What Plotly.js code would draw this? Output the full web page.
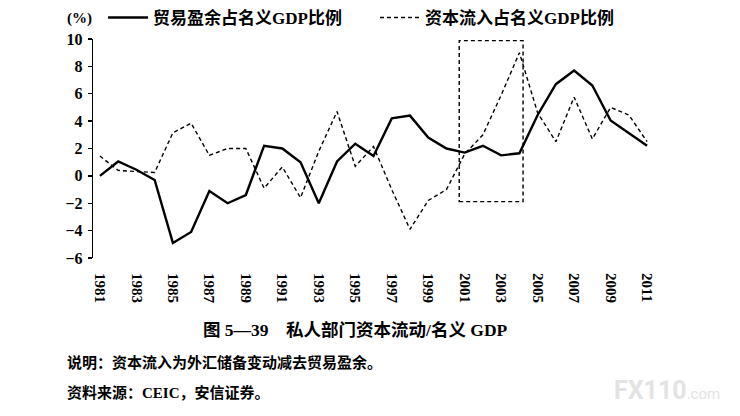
<!DOCTYPE html>
<html>
<head>
<meta charset="utf-8">
<script src="https://cdn.plot.ly/plotly-3.0.1.min.js"></script>
<style>
  html, body { margin: 0; padding: 0; background: #fff; }
  #chart { width: 740px; height: 416px; }
</style>
</head>
<body>
<div id="chart"></div>
<script>
const years = [
  1981, 1982, 1983, 1984, 1985, 1986, 1987, 1988, 1989, 1990,
  1991, 1992, 1993, 1994, 1995, 1996, 1997, 1998, 1999, 2000,
  2001, 2002, 2003, 2004, 2005, 2006, 2007, 2008, 2009, 2010, 2011,
];
// 贸易盈余占名义GDP比例 (%)
const tradeSurplus = [
  0.0, 1.05, 0.45, -0.3, -4.9, -4.1, -1.1, -2.0, -1.4, 2.2,
  2.0, 1.0, -2.0, 1.05, 2.35, 1.45, 4.2, 4.4, 2.8, 2.0,
  1.7, 2.2, 1.5, 1.65, 4.45, 6.7, 7.7, 6.6, 4.05, 3.15, 2.2,
];
// 资本流入占名义GDP比例 (%)
const capitalInflow = [
  1.45, 0.4, 0.32, 0.25, 3.15, 3.85, 1.5, 2.0, 2.0, -0.9,
  0.65, -1.6, 1.8, 4.7, 0.7, 2.15, -1.0, -3.9, -1.8, -1.0,
  1.6, 3.0, 5.9, 9.0, 4.6, 2.5, 5.75, 2.7, 5.0, 4.45, 2.5,
];
const labelYears = [1981, 1983, 1985, 1987, 1989, 1991, 1993, 1995, 1997, 1999, 2001, 2003, 2005, 2007, 2009, 2011];
const yTicks = [-6, -4, -2, 0, 2, 4, 6, 8, 10];
const seriesNames = ['贸易盈余占名义GDP比例', '资本流入占名义GDP比例'];
// highlighted period (dashed box)
const boxYears = [2000.7, 2004.2];
const boxValues = [-1.88, 9.88];

const fontStack = '"Liberation Serif", "Noto Sans CJK SC", serif';
const xRange = [1980.62, 2011.27];
const yRange = [-6, 10];
// small ticks on the zero line sit between the labelled years
const zeroTicks = labelYears.slice(1).map((y) => y - 0.5);

const traces = [
  {
    x: years,
    y: tradeSurplus,
    name: seriesNames[0],
    mode: 'lines',
    line: { color: '#000', width: 2.4 },
    legend: 'legend',
    hoverinfo: 'none',
  },
  {
    x: years,
    y: capitalInflow,
    name: seriesNames[1],
    mode: 'lines',
    line: { color: '#000', width: 1.4, dash: '4px,3px' },
    legend: 'legend2',
    hoverinfo: 'none',
  },
];

// one legend per series so each entry can sit where the original puts it
const legendBase = (x) => ({
  orientation: 'h',
  x: x,
  xanchor: 'left',
  yref: 'container',
  y: 0.957,
  yanchor: 'middle',
  itemwidth: 40,
  font: { family: fontStack, size: 17, weight: 'bold' },
  bgcolor: 'rgba(0,0,0,0)',
});

const layout = {
  width: 740,
  height: 416,
  paper_bgcolor: '#fff',
  plot_bgcolor: '#fff',
  margin: { l: 93, r: 88, t: 39, b: 158, pad: 0 },
  font: { family: fontStack, color: '#000', size: 14 },
  showlegend: true,
  legend: legendBase(0.018),
  legend2: legendBase(0.5045),
  xaxis: {
    range: xRange,
    tickvals: labelYears,
    ticktext: labelYears.map(String),
    tickangle: 90,
    ticks: '',
    ticklabelstandoff: 14,
    showline: false,
    showgrid: false,
    zeroline: false,
    tickfont: { family: fontStack, size: 15, weight: 'bold' },
  },
  xaxis2: {
    range: xRange,
    overlaying: 'x',
    anchor: 'free',
    position: (0 - yRange[0]) / (yRange[1] - yRange[0]),
    side: 'bottom',
    tickvals: zeroTicks,
    ticks: 'outside',
    ticklen: 5,
    tickwidth: 1.3,
    tickcolor: '#000',
    showticklabels: false,
    showline: true,
    linecolor: '#000',
    linewidth: 1.3,
    showgrid: false,
    zeroline: false,
  },
  yaxis: {
    range: yRange,
    tickvals: yTicks,
    ticks: 'outside',
    ticklen: 4,
    tickwidth: 1.3,
    tickcolor: '#000',
    showline: true,
    linecolor: '#000',
    linewidth: 1.3,
    showgrid: false,
    zeroline: false,
    ticklabelstandoff: 2,
    tickfont: { family: fontStack, size: 16, weight: 'bold' },
  },
  shapes: [
    {
      type: 'rect',
      xref: 'x',
      yref: 'y',
      x0: boxYears[0],
      x1: boxYears[1],
      y0: boxValues[0],
      y1: boxValues[1],
      line: { color: '#000', width: 1.4, dash: '4px,3px' },
    },
  ],
  annotations: [
    {
      text: '(%)',
      xref: 'paper', yref: 'paper',
      x: -0.025, y: 1.095,
      xanchor: 'center', yanchor: 'middle',
      showarrow: false,
      font: { family: fontStack, size: 15, weight: 'bold' },
    },
    {
      text: '图 5—39　私人部门资本流动/名义 GDP',
      xref: 'paper', yref: 'paper',
      x: 0.469, y: -0.329,
      xanchor: 'center', yanchor: 'middle',
      showarrow: false,
      font: { family: fontStack, size: 17.5, weight: 'bold' },
    },
    {
      text: '说明：资本流入为外汇储备变动减去贸易盈余。',
      xref: 'paper', yref: 'paper',
      x: -0.05, y: -0.475,
      xanchor: 'left', yanchor: 'middle',
      showarrow: false,
      font: { family: fontStack, size: 15, weight: 'bold' },
    },
    {
      text: '资料来源：CEIC，安信证券。',
      xref: 'paper', yref: 'paper',
      x: -0.05, y: -0.612,
      xanchor: 'left', yanchor: 'middle',
      showarrow: false,
      font: { family: fontStack, size: 15, weight: 'bold' },
    },
    {
      text: 'FX110<span style="font-size:15px;font-weight:normal">.com</span>',
      xref: 'paper', yref: 'paper',
      x: 0.929, y: -0.603,
      xanchor: 'left', yanchor: 'middle',
      showarrow: false,
      font: { family: 'Roboto, "DejaVu Sans", sans-serif', size: 25, color: '#e3e3e3', weight: 'bold' },
    },
  ],
};

Plotly.newPlot('chart', traces, layout, { displayModeBar: false, staticPlot: true });
</script>
</body>
</html>
